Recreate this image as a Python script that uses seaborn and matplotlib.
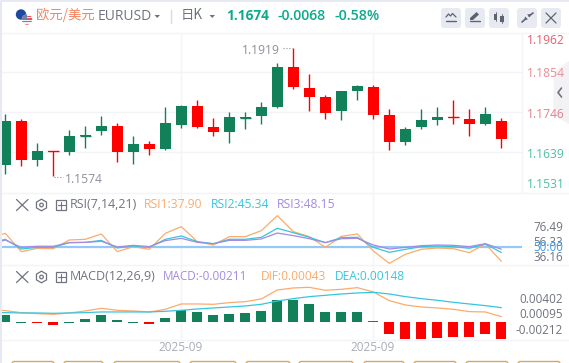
import numpy as np
import pandas as pd
import matplotlib
matplotlib.use('Agg')
import matplotlib.pyplot as plt
from matplotlib.patches import Circle, FancyBboxPatch, Polygon, Rectangle, RegularPolygon, Wedge
import seaborn as sns

# candles (oldest first)
opens = [1.1605, 1.1723, 1.1619, 1.1642, 1.1638, 1.1683, 1.1696, 1.1709, 1.1640, 1.1661, 1.1648, 1.1712, 1.1763, 1.1707,
         1.1693, 1.1732, 1.1736, 1.1760, 1.1868, 1.1811, 1.1787, 1.1750, 1.1803, 1.1814, 1.1739, 1.1666, 1.1707, 1.1725,
         1.1733, 1.1728, 1.1715, 1.1723]
highs = [1.1741, 1.1728, 1.1663, 1.1642, 1.1698, 1.1709, 1.1736, 1.1717, 1.1682, 1.1669, 1.1760, 1.1766, 1.1779, 1.1731,
         1.1747, 1.1747, 1.1774, 1.1878, 1.1919, 1.1849, 1.1793, 1.1803, 1.1819, 1.1819, 1.1755, 1.1707, 1.1755, 1.1760,
         1.1779, 1.1755, 1.1760, 1.1731]
lows = [1.1581, 1.1603, 1.1603, 1.1574, 1.1630, 1.1650, 1.1685, 1.1613, 1.1608, 1.1630, 1.1645, 1.1704, 1.1704, 1.1682,
        1.1663, 1.1701, 1.1715, 1.1758, 1.1809, 1.1750, 1.1728, 1.1725, 1.1779, 1.1728, 1.1645, 1.1658, 1.1701, 1.1712,
        1.1715, 1.1682, 1.1712, 1.1650]
closes = [1.1723, 1.1619, 1.1642, 1.1638, 1.1683, 1.1685, 1.1709, 1.1640, 1.1661, 1.1648, 1.1717, 1.1763, 1.1707, 1.1693,
          1.1733, 1.1733, 1.1760, 1.1868, 1.1814, 1.1787, 1.1744, 1.1803, 1.1817, 1.1739, 1.1666, 1.1701, 1.1725, 1.1733,
          1.1732, 1.1715, 1.1741, 1.1674]
candle_up = [1, 0, 1, 0, 1, 1, 1, 0, 1, 0, 1, 1, 0, 0, 1, 1, 1, 1, 0, 0, 0, 1, 1, 0, 0, 1, 1, 1, 0, 0, 1, 0]

# RSI lines start one day before the first candle
rsi1 = [57.3, 61.55, 46.06, 48.87, 48.59, 55.92, 56.48, 60.99, 46.06, 50.28, 48.03, 61.55, 67.18, 54.51, 51.69, 58.73,
        58.73, 63.80, 76.49, 62.96, 58.73, 49.72, 59.01, 60.99, 46.62, 36.16, 43.80, 48.03, 49.15, 48.59, 45.21, 52.54, 37.90]
rsi2 = [53.1, 56.5, 48.3, 49.7, 49.7, 53.7, 53.9, 55.6, 49.2, 50.8, 49.7, 56.5, 59.3, 54.5, 52.8, 56.5,
        56.5, 58.2, 65.8, 62.1, 58.2, 53.7, 57.9, 58.2, 49.7, 45.5, 48.0, 50.3, 50.8, 50.3, 48.9, 52.5, 45.34]
rsi3 = [51.7, 55.9, 49.7, 50.6, 50.6, 53.7, 53.9, 54.8, 50.0, 51.4, 50.3, 55.4, 57.3, 53.9, 52.8, 55.6,
        55.6, 56.8, 61.8, 59.6, 57.0, 53.7, 57.0, 57.3, 51.7, 48.3, 49.7, 51.1, 51.7, 51.4, 50.3, 52.8, 48.15]

dif = [.00152, .00136, .00112, .00100, .00092, .00108, .00132, .00164, .00140, .00132, .00120, .00152, .00216, .00216,
       .00212, .00232, .00244, .00276, .00384, .00408, .00416, .00380, .00392, .00412, .00360, .00256, .00204, .00180,
       .00168, .00152, .00124, .00120, .00064]
dea = [.00112, .00112, .00108, .00108, .00104, .00108, .00112, .00120, .00120, .00120, .00120, .00128, .00140, .00156,
       .00168, .00180, .00192, .00212, .00252, .00280, .00304, .00320, .00336, .00348, .00356, .00336, .00304, .00280,
       .00260, .00236, .00216, .00196, .00172]
hist = [.00084, -.00008, -.00008, -.00036, -.00008, .00036, .00084, .00024, -.00008, -.00024, .00048, .0014, .0012, .00084,
        .00096, .00108, .00132, .00264, .00264, .00216, .0012, .0012, .0012, .00008, -.00144, -.00204, -.00204, -.00192,
        -.0018, -.0018, -.00144, -.00204]
hist_up = [1, 1, 0, 0, 1, 1, 1, 1, 1, 0, 1, 1, 1, 1, 1, 1, 1, 1, 1, 1, 1, 1, 1, 1, 0, 0, 0, 0, 0, 0, 0, 0]

price_labels = ['1.1962', '1.1854', '1.1746', '1.1639', '1.1531']
rsi_labels = ['76.49', '56.33', '36.16']
macd_labels = ['0.00402', '0.00095', '-0.00212']
date_labels = ['2025-09', '2025-09']
date_pos = [10.98, 22.98]

W, H = 569, 363
GREEN = '#128058'
RED = '#ff0000'
GRID = '#f3f4f8'
ORANGE = '#fbab6c'
CYAN = '#35c6de'
PURPLE = '#a38be0'
TEAL = '#0caa8c'
GRAY = '#70737f'

sns.set_theme(style='white')
plt.rcParams['font.family'] = ['Noto Sans CJK SC', 'DejaVu Sans']
plt.rcParams['axes.unicode_minus'] = False

fig = plt.figure(figsize=(W / 100, H / 100), dpi=100, facecolor='white')


def pane(top, bottom):
    ax = fig.add_axes([2 / W, 1 - bottom / H, 520 / W, (bottom - top) / H])
    ax.set_xlim(-0.206, 32.29)
    ax.set_xticks([])
    ax.set_yticks([])
    ax.patch.set_alpha(0)
    for s in ax.spines.values():
        s.set_visible(False)
    for d in date_pos:
        ax.axvline(d, color=GRID, lw=1, zorder=0)
    return ax


# candles
ax1 = pane(33, 193)
ax1.set_ylim(1.15291, 1.19591)
for g in [1.1854, 1.1746, 1.1639]:
    ax1.axhline(g, color=GRID, lw=1, zorder=0)
idx = np.arange(len(opens))
candle_colors = [GREEN if u else RED for u in candle_up]
ax1.vlines(idx, lows, highs, colors=candle_colors, lw=1.0, zorder=2)
body_low = np.minimum(opens, closes)
body_high = np.maximum(opens, closes)
ax1.bar(idx, body_high - body_low, bottom=body_low, width=0.6875, color=candle_colors, lw=0, zorder=3)
for i in idx:
    if body_high[i] - body_low[i] < 0.0004:
        ax1.hlines(opens[i], i - 0.34, i + 0.34, color=candle_colors[i], lw=1.0, zorder=3)

# RSI
ax2 = pane(193.5, 265.3)
ax2.set_ylim(34.53, 95.2)
x_lines = np.arange(-1, 32)
ax2.axhline(50, color='#94c9f7', lw=1.6, zorder=1)
sns.lineplot(x=x_lines, y=rsi1, color=ORANGE, lw=0.9, ax=ax2, zorder=2)
sns.lineplot(x=x_lines, y=rsi2, color=CYAN, lw=0.9, ax=ax2, zorder=3)
sns.lineplot(x=x_lines, y=rsi3, color=PURPLE, lw=0.9, ax=ax2, zorder=4)

# MACD
ax3 = pane(265.3, 339.3)
ax3.set_ylim(-0.00208, 0.0068)
df = pd.DataFrame({'day': idx, 'hist': hist, 'up': hist_up})
sns.barplot(data=df, x='day', y='hist', hue='up', palette={1: GREEN, 0: RED}, native_scale=True, saturation=1,
            dodge=False, width=0.625, legend=False, ax=ax3, lw=0, zorder=2)
ax3.set_xlim(-0.206, 32.29)
ax3.set_xlabel('')
ax3.set_ylabel('')
ax3.set_xticks([])
ax3.set_yticks([])
sns.lineplot(x=x_lines, y=dif, color=ORANGE, lw=0.9, ax=ax3, zorder=3)
sns.lineplot(x=x_lines, y=dea, color=CYAN, lw=0.9, ax=ax3, zorder=4)

# overlay in pixel coordinates for the page furniture
ui = fig.add_axes([0, 0, 1, 1])
ui.set_xlim(0, W)
ui.set_ylim(H, 0)
ui.axis('off')
ui.patch.set_alpha(0)

ui.add_patch(Rectangle((0, 0), 2.3, H, color='#e6e9f2', lw=0))
ui.add_patch(Rectangle((0, 0), W, 2.3, color='#e6e9f2', lw=0))
ui.plot([2, W], [33, 33], color=GRID, lw=1)
ui.plot([2, W], [193.4, 193.4], color=GRID, lw=1)
ui.plot([2, W], [265.3, 265.3], color=GRID, lw=1)
ui.plot([2, W], [339.5, 339.5], color=GRID, lw=1)
ui.plot([522.5, 522.5], [33, 193.4], color=GRID, lw=1)

# right hand tab
ui.add_patch(Polygon([(569, 61), (554, 72), (553, 115), (569, 124)], color='#f0f0f4', lw=0, alpha=0.85))
ui.plot([561.5, 558, 561.5], [88, 92.5, 97], color='#70737f', lw=1.2)

# flags
ui.add_patch(Circle((21, 14.5), 5.2, color='#1d4aa0', lw=0))
us = Circle((27, 19.5), 5.2, color='#f4f4f6', lw=0)
ui.add_patch(us)
for yy in [15.6, 18.3, 21, 23.6]:
    r = Rectangle((21, yy), 12, 1.3, color='#e8525a', lw=0)
    ui.add_patch(r)
    r.set_clip_path(us)
ui.add_patch(Wedge((27, 19.5), 5.2, 180, 270, color='#6f7faa', lw=0))

# header
ui.text(36, 15, '欧元/美元', color='#f5835f', fontsize=9.6, va='center', ha='left')
ui.text(98, 16.5, 'EURUSD', color=GRAY, fontsize=10, va='center', ha='left', family='Open Sans')
ui.add_patch(Polygon([(154.5, 15), (160, 15), (157.2, 18)], color=GRAY, lw=0))
ui.plot([171.5, 171.5], [10, 23], color='#d9dbe2', lw=1)
ui.text(181, 15, '日K', color=GRAY, fontsize=9.6, va='center', ha='left')
ui.add_patch(Polygon([(209.5, 15), (215, 15), (212.2, 18)], color=GRAY, lw=0))
ui.text(226, 15.5, '1.1674', color=TEAL, fontsize=9.8, va='center', ha='left', family='Open Sans', weight='bold')
ui.text(278, 15.5, '-0.0068', color=TEAL, fontsize=10.1, va='center', ha='left', family='Open Sans', weight='semibold')
ui.text(335, 15.5, '-0.58%', color=TEAL, fontsize=10.3, va='center', ha='left', family='Open Sans', weight='semibold')

# toolbar buttons
for bx in [441, 465, 489, 517, 541]:
    ui.add_patch(FancyBboxPatch((bx + 2, 10), 16, 16, boxstyle='round,pad=2,rounding_size=3', color='#e8eaf1', lw=0))
ICON = '#5f636e'
ui.plot([446, 448.5, 450.5, 452.5, 456], [17, 14, 16, 13.5, 17], color=ICON, lw=0.9)
ui.plot([446, 456], [20.5, 20.5], color=ICON, lw=1.0)
ui.add_patch(Polygon([(470, 18), (476.5, 12), (479, 14.5), (473, 20), (470, 20)], color=ICON, lw=0))
ui.plot([470, 480], [21, 21], color=ICON, lw=1.0)
ui.add_patch(Rectangle((494, 13.5), 3.5, 6, color=ICON, lw=0))
ui.add_patch(Rectangle((500.5, 15.5), 3.5, 6, color=ICON, lw=0))
ui.plot([495.8, 495.8], [12, 21], color=ICON, lw=0.6)
ui.plot([502.2, 502.2], [13.5, 23], color=ICON, lw=0.6)
ui.plot([522, 526], [22, 18.5], color=ICON, lw=1.2)
ui.plot([529, 533], [16, 13], color=ICON, lw=1.2)
ui.add_patch(Polygon([(525, 16.5), (528, 19.5), (524.5, 20)], color=ICON, lw=0))
ui.add_patch(Polygon([(527, 14.5), (530, 17.5), (530.5, 14)], color=ICON, lw=0))
ui.plot([546, 556], [13, 23], color=ICON, lw=0.9)
ui.plot([556, 546], [13, 23], color=ICON, lw=0.9)

# price axis and extreme labels
label_y = [40.3, 73.6, 114, 154, 184]
label_col = ['#e2616f', '#ea8c97', '#e4808c', '#4cc0a8', '#4cc0a8']
for t, yy, c in zip(price_labels, label_y, label_col):
    ui.text(526.5, yy, t, color=c, fontsize=8.7, va='center', ha='left', family='Open Sans')
ui.text(242, 50.5, '1.1919', color='#8d909b', fontsize=8.7, va='center', ha='left', family='Open Sans')
ui.plot([283, 292], [48, 48], color='#8d909b', lw=0.8, ls=(0, (1, 1.6)))
ui.text(65, 179.5, '1.1574', color='#8d909b', fontsize=8.7, va='center', ha='left', family='Open Sans')
ui.plot([54, 63], [177, 177], color='#8d909b', lw=0.8, ls=(0, (1, 1.6)))

# pane headers
for yy, key in [(205, 'rsi'), (277, 'macd')]:
    ui.plot([16.5, 28], [yy - 5.5, yy + 5.5], color=GRAY, lw=0.9)
    ui.plot([28, 16.5], [yy - 5.5, yy + 5.5], color=GRAY, lw=0.9)
    ui.add_patch(RegularPolygon((41.5, yy), 6, radius=5.8, fill=False, ec=GRAY, lw=0.9))
    ui.add_patch(Circle((41.5, yy), 1.8, fill=False, ec=GRAY, lw=0.9))
    ui.add_patch(Rectangle((56.5, yy - 5), 10, 10, fill=False, ec=GRAY, lw=0.9))
    ui.plot([61.5, 61.5], [yy - 3.5, yy + 3.5], color=GRAY, lw=0.8)
    ui.plot([58, 65], [yy, yy], color=GRAY, lw=0.8)

ui.text(70, 205, 'RSI(7,14,21)', color=GRAY, fontsize=8.9, va='center', ha='left', family='Open Sans')
ui.text(144, 205, 'RSI1:37.90', color=ORANGE, fontsize=8.7, va='center', ha='left', family='Open Sans')
ui.text(211, 205, 'RSI2:45.34', color=CYAN, fontsize=8.7, va='center', ha='left', family='Open Sans')
ui.text(277, 205, 'RSI3:48.15', color=PURPLE, fontsize=8.7, va='center', ha='left', family='Open Sans')
ui.text(70, 277, 'MACD(12,26,9)', color=GRAY, fontsize=9, va='center', ha='left', family='Open Sans')
ui.text(163, 277, 'MACD:-0.00211', color=PURPLE, fontsize=8.5, va='center', ha='left', family='Open Sans')
ui.text(261, 277, 'DIF:0.00043', color=ORANGE, fontsize=8.6, va='center', ha='left', family='Open Sans')
ui.text(335, 277, 'DEA:0.00148', color=CYAN, fontsize=8.6, va='center', ha='left', family='Open Sans')

# pane axis labels
for t, yy in zip(rsi_labels, [227.7, 242, 257.5]):
    ui.text(563, yy, t, color=GRAY, fontsize=8.4, va='center', ha='right', family='Open Sans')
ui.text(563, 247.3, '50.00', color='#3f9bf0', fontsize=8.4, va='center', ha='right', family='Open Sans')
for t, yy in zip(macd_labels, [299.5, 314.5, 330]):
    ui.text(563, yy, t, color=GRAY, fontsize=8.4, va='center', ha='right', family='Open Sans')

for t, d in zip(date_labels, date_pos):
    ui.text(5.3 + 16 * d, 347.5, t, color='#a9abb8', fontsize=8.5, va='center', ha='center', family='Open Sans')

# tops of the buttons under the chart
for x0, x1 in [(12, 54), (64, 103), (114, 180), (190, 236), (246, 290), (299, 353), (364, 404), (414, 456), (466, 508), (518, 560)]:
    ui.plot([x0, x0 + 1.5, x1 - 1.5, x1], [363, 361.5, 361.5, 363], color='#d8a95c', lw=1.0)

fig.savefig('out.png', dpi=100)
